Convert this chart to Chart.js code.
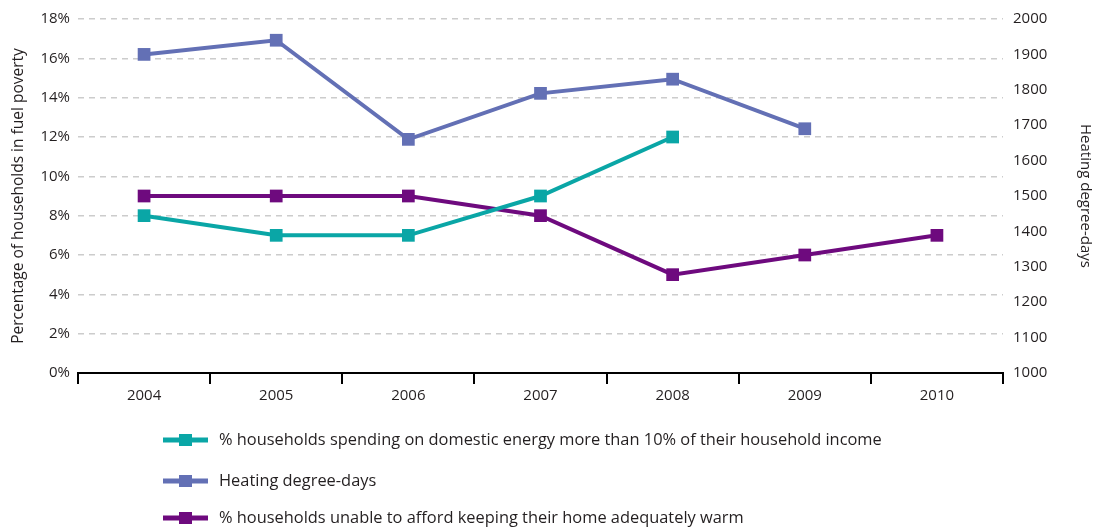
<!DOCTYPE html>
<html>
<head>
<meta charset="utf-8">
<script src="https://cdn.jsdelivr.net/npm/chart.js@4"></script>
<style>
  html, body { margin: 0; padding: 0; background: #fff; }
  #wrap { width: 1094px; height: 528px; position: relative; }
</style>
</head>
<body>
<div id="wrap"><canvas id="c" width="1094" height="528"></canvas></div>
<script>
// Years on the category axis
const years = ['2004', '2005', '2006', '2007', '2008', '2009', '2010'];

// % households spending more than 10% of income on domestic energy
const energyShare = [8, 7, 7, 9, 12, null, null];
// Heating degree-days (right axis)
const degreeDays = [1900, 1940, 1660, 1790, 1830, 1690, null];
// % households unable to keep their home adequately warm
const unableWarm = [9, 9, 9, 8, 5, 6, 7];

const labelEnergy = '% households spending on domestic energy more than 10% of their household income';
const labelHdd = 'Heating degree-days';
const labelWarm = '% households unable to afford keeping their home adequately warm';

const FONT = '"Open Sans", "Noto Sans", sans-serif';
const TEXT = '#231f20';

function series(label, data, color, axis) {
  return {
    label, data, yAxisID: axis,
    borderColor: color, backgroundColor: color,
    borderWidth: 4, pointStyle: 'rect', pointRadius: 9, pointHoverRadius: 9,
    pointBorderWidth: 0, tension: 0, spanGaps: false
  };
}

// Legend drawn underneath the plot: line + square swatch, one entry per row
const bottomLegend = {
  id: 'bottomLegend',
  afterDraw(chart) {
    const ctx = chart.ctx;
    const rows = [440, 481, 518];
    ctx.save();
    chart.data.datasets.forEach((ds, i) => {
      const y = rows[i];
      ctx.strokeStyle = ds.borderColor;
      ctx.lineWidth = 5;
      ctx.beginPath();
      ctx.moveTo(163, y); ctx.lineTo(208, y); ctx.stroke();
      ctx.fillStyle = ds.borderColor;
      ctx.fillRect(179, y - 6, 13, 12);
      ctx.fillStyle = TEXT;
      ctx.font = '16.4px ' + FONT;
      ctx.textBaseline = 'middle';
      ctx.textAlign = 'left';
      ctx.fillText(ds.label, 219, y);
    });
    ctx.restore();
  }
};

new Chart(document.getElementById('c'), {
  type: 'line',
  data: {
    labels: years,
    datasets: [
      series(labelEnergy, energyShare, '#0aa6a6', 'y'),
      series(labelHdd, degreeDays, '#6370b5', 'y1'),
      series(labelWarm, unableWarm, '#6e0a7e', 'y')
    ]
  },
  options: {
    responsive: false,
    animation: false,
    devicePixelRatio: 1,
    layout: { padding: { top: 18, bottom: 120, left: 0, right: 0 } },
    plugins: { legend: { display: false }, tooltip: { enabled: false } },
    scales: {
      x: {
        offset: true,
        grid: { display: true, offset: true, drawOnChartArea: false, color: '#000', lineWidth: 2, tickLength: 11 },
        border: { display: true, color: '#000', width: 2 },
        ticks: { color: TEXT, font: { family: FONT, size: 15 }, padding: 3 }
      },
      y: {
        position: 'left',
        min: 0, max: 18,
        afterFit(s) { s.width = 78; },
        ticks: { stepSize: 2, color: TEXT, font: { family: FONT, size: 15 }, padding: 8,
                 callback: v => v + '%' },
        grid: { color: '#cccccc', lineWidth: 1.5, drawTicks: false },
        border: { display: false, dash: [6, 5] },
        title: { display: true, text: 'Percentage of households in fuel poverty', color: TEXT,
                 font: { family: FONT, size: 15.5 }, padding: { top: 9, bottom: 0 } }
      },
      y1: {
        position: 'right',
        min: 1000, max: 2000,
        afterFit(s) { s.width = 91; },
        ticks: { stepSize: 100, color: TEXT, font: { family: FONT, size: 15 }, padding: 10,
                 callback: v => String(v) },
        grid: { drawOnChartArea: false, drawTicks: false },
        border: { display: false },
        title: { display: true, text: 'Heating degree-days', color: TEXT,
                 font: { family: FONT, size: 15 }, padding: { top: 0, bottom: 0 } }
      }
    }
  },
  plugins: [bottomLegend]
});
</script>
</body>
</html>
